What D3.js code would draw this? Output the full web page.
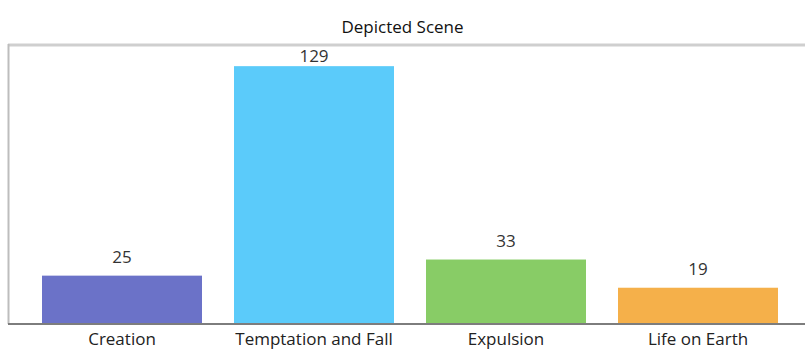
<!DOCTYPE html>
<html>
<head>
<meta charset="utf-8">
<script src="https://cdn.jsdelivr.net/npm/d3@7"></script>
<style>
  html, body { margin: 0; padding: 0; background: #fff; }
  svg { display: block; font-family: "Open Sans", "Noto Sans", sans-serif; }
</style>
</head>
<body>
<svg id="chart" width="805" height="353"></svg>
<script>
// Scene counts
const categories = ["Creation", "Temptation and Fall", "Expulsion", "Life on Earth"];
const counts = [25, 129, 33, 19];
const barColors = ["#6b72c8", "#5bcbfa", "#88cc66", "#f5b04a"];
const title = "Depicted Scene";

const svg = d3.select("#chart");
const W = 805, H = 353;

const x = d3.scaleBand()
  .domain(categories)
  .range([26, 794])
  .paddingInner(1 / 6)
  .paddingOuter(1 / 12);

const y = d3.scaleLinear()
  .domain([0, 140])
  .range([326, 44]);

const baseY = 324;

// Title
svg.append("text")
  .attr("x", W / 2)
  .attr("y", 33)
  .attr("text-anchor", "middle")
  .attr("font-size", 17)
  .attr("fill", "#111")
  .text(title);

// Plot frame: top and left edges
svg.append("line")
  .attr("x1", 8).attr("x2", W)
  .attr("y1", 45).attr("y2", 45)
  .attr("stroke", "#cfcfcf").attr("stroke-width", 3);
svg.append("line")
  .attr("x1", 8.5).attr("x2", 8.5)
  .attr("y1", 44).attr("y2", baseY)
  .attr("stroke", "#bdbdbd").attr("stroke-width", 2);

// Bars
svg.append("g")
  .selectAll("rect")
  .data(categories)
  .join("rect")
  .attr("x", d => x(d))
  .attr("y", (d, i) => y(counts[i]))
  .attr("width", x.bandwidth())
  .attr("height", (d, i) => baseY - y(counts[i]))
  .attr("fill", (d, i) => barColors[i]);

// Value labels above bars, kept inside the frame
svg.append("g")
  .selectAll("text")
  .data(categories)
  .join("text")
  .attr("x", d => x(d) + x.bandwidth() / 2)
  .attr("y", (d, i) => Math.max(y(counts[i]) - 13, 62))
  .attr("text-anchor", "middle")
  .attr("font-size", 17)
  .attr("fill", "#333")
  .text((d, i) => counts[i]);

// Category axis
const xAxis = svg.append("g")
  .attr("transform", `translate(0,${baseY})`)
  .call(d3.axisBottom(x).tickSize(0).tickPadding(9));
xAxis.select(".domain").remove();
xAxis.append("line")
  .attr("x1", 8).attr("x2", W)
  .attr("y1", 0).attr("y2", 0)
  .attr("stroke", "#7d7d7d").attr("stroke-width", 2);
xAxis.selectAll(".tick text")
  .attr("font-size", 17)
  .attr("font-family", "'Open Sans', 'Noto Sans', sans-serif")
  .attr("fill", "#222");
</script>
</body>
</html>
